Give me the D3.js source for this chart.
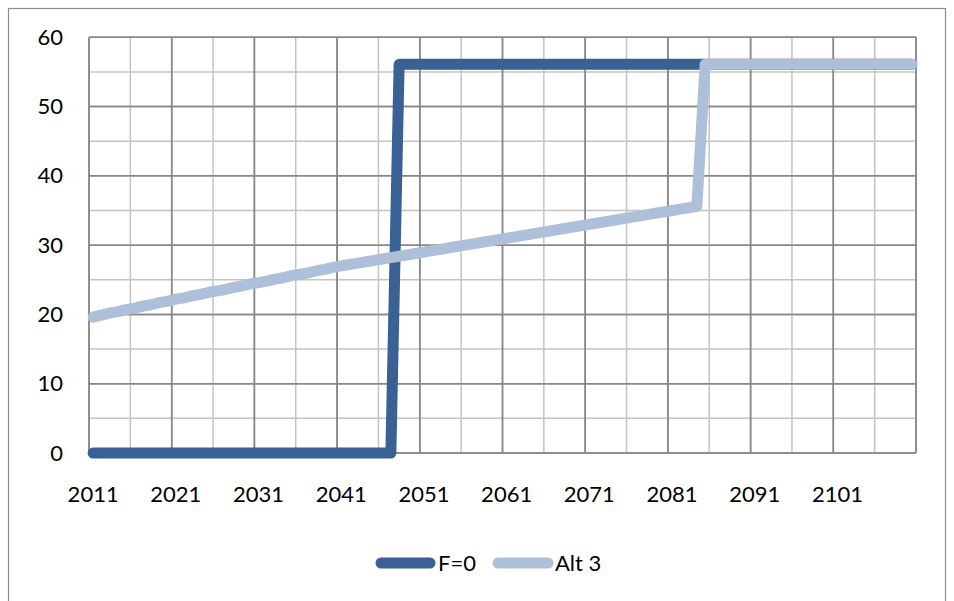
<!DOCTYPE html>
<html>
<head>
<meta charset="utf-8">
<script src="https://cdn.jsdelivr.net/npm/d3@7"></script>
<style>
  html, body { margin: 0; padding: 0; background: #fff; }
  svg { display: block; font-family: Lato, "Open Sans", sans-serif; }
</style>
</head>
<body>
<svg id="chart" width="954" height="601"></svg>
<script>
// ---- Data ----
const years = [
  2011,2012,2013,2014,2015,2016,2017,2018,2019,2020,
  2021,2022,2023,2024,2025,2026,2027,2028,2029,2030,
  2031,2032,2033,2034,2035,2036,2037,2038,2039,2040,
  2041,2042,2043,2044,2045,2046,2047,2048,2049,2050,
  2051,2052,2053,2054,2055,2056,2057,2058,2059,2060,
  2061,2062,2063,2064,2065,2066,2067,2068,2069,2070,
  2071,2072,2073,2074,2075,2076,2077,2078,2079,2080,
  2081,2082,2083,2084,2085,2086,2087,2088,2089,2090,
  2091,2092,2093,2094,2095,2096,2097,2098,2099,2100,
  2101,2102,2103,2104,2105,2106,2107,2108,2109,2110
];
const seriesNames = ["F=0", "Alt 3"];
const f0Values = [
  0,0,0,0,0,0,0,0,0,0,
  0,0,0,0,0,0,0,0,0,0,
  0,0,0,0,0,0,0,0,0,0,
  0,0,0,0,0,0,0,56.1,56.1,56.1,
  56.1,56.1,56.1,56.1,56.1,56.1,56.1,56.1,56.1,56.1,
  56.1,56.1,56.1,56.1,56.1,56.1,56.1,56.1,56.1,56.1,
  56.1,56.1,56.1,56.1,56.1,56.1,56.1,56.1,56.1,56.1,
  56.1,56.1,56.1,56.1,56.1,56.1,56.1,56.1,56.1,56.1,
  56.1,56.1,56.1,56.1,56.1,56.1,56.1,56.1,56.1,56.1,
  56.1,56.1,56.1,56.1,56.1,56.1,56.1,56.1,56.1,56.1
];
const alt3Values = [
  19.6,19.9,20.2,20.4,20.7,20.9,21.2,21.4,21.7,21.9,
  22.2,22.4,22.7,22.9,23.2,23.4,23.6,23.9,24.1,24.4,
  24.6,24.8,25.1,25.3,25.6,25.8,26.0,26.3,26.5,26.8,
  27.0,27.2,27.4,27.6,27.8,28.0,28.2,28.4,28.6,28.8,
  29.0,29.2,29.4,29.6,29.8,30.0,30.2,30.4,30.6,30.8,
  31.0,31.2,31.4,31.6,31.8,32.0,32.2,32.4,32.6,32.8,
  33.0,33.2,33.4,33.6,33.8,34.0,34.2,34.4,34.6,34.8,
  35.0,35.2,35.4,35.6,56.1,56.1,56.1,56.1,56.1,56.1,
  56.1,56.1,56.1,56.1,56.1,56.1,56.1,56.1,56.1,56.1,
  56.1,56.1,56.1,56.1,56.1,56.1,56.1,56.1,56.1,56.1
];
const yTicks = [0,10,20,30,40,50,60];
const xTickLabels = [2011,2021,2031,2041,2051,2061,2071,2081,2091,2101];
const colors = ["#3A6194", "#ADBFD9"];

// ---- Layout ----
const svg = d3.select("#chart");
const plot = { left: 89, right: 916, top: 37.3, bottom: 453 };

svg.append("rect")
  .attr("x", 8.5).attr("y", 8.5)
  .attr("width", 937).attr("height", 620)
  .attr("fill", "none").attr("stroke", "#8c8c8c").attr("stroke-width", 1.2);

const x = d3.scaleBand().domain(years).range([plot.left, plot.right]).paddingInner(0).paddingOuter(0);
const y = d3.scaleLinear().domain([0, 60]).range([plot.bottom, plot.top]);
const xc = d => x(d) + x.bandwidth() / 2;

// gridlines
const grid = svg.append("g");
const hVals = d3.range(0, 61, 5);
grid.selectAll("line.h").data(hVals).enter().append("line")
  .attr("x1", plot.left).attr("x2", plot.right)
  .attr("y1", d => y(d)).attr("y2", d => y(d))
  .attr("stroke", d => d % 10 === 0 ? "#878787" : "#c3c3c3")
  .attr("stroke-width", 1.5);
const vIdx = d3.range(0, years.length + 1, 5);
const boundary = i => i < years.length ? x(years[i]) : plot.right;
grid.selectAll("line.v").data(vIdx).enter().append("line")
  .attr("x1", i => boundary(i)).attr("x2", i => boundary(i))
  .attr("y1", plot.top).attr("y2", plot.bottom)
  .attr("stroke", i => i % 10 === 0 ? "#878787" : "#c3c3c3")
  .attr("stroke-width", 1.5);
// redraw major gridlines on top of minor
grid.selectAll("line.vm").data(vIdx.filter(i => i % 10 === 0)).enter().append("line")
  .attr("x1", i => boundary(i)).attr("x2", i => boundary(i))
  .attr("y1", plot.top).attr("y2", plot.bottom)
  .attr("stroke", "#878787").attr("stroke-width", 1.5);
grid.selectAll("line.hm").data(hVals.filter(d => d % 10 === 0)).enter().append("line")
  .attr("x1", plot.left).attr("x2", plot.right)
  .attr("y1", d => y(d)).attr("y2", d => y(d))
  .attr("stroke", "#878787").attr("stroke-width", 1.5);

// axes
const yAxis = svg.append("g")
  .attr("transform", `translate(${plot.left},0)`)
  .call(d3.axisLeft(y).tickValues(yTicks).tickSize(0).tickPadding(26));
yAxis.select(".domain").remove();
yAxis.selectAll("text").attr("font-size", 22).attr("fill", "#000")
  .attr("font-family", "Lato, 'Open Sans', sans-serif");

const xAxis = svg.append("g")
  .attr("transform", `translate(0,${plot.bottom})`)
  .call(d3.axisBottom(x).tickValues(xTickLabels).tickSize(0).tickPadding(0));
xAxis.select(".domain").remove();
xAxis.selectAll("text").attr("font-size", 22).attr("fill", "#000")
  .attr("font-family", "Lato, 'Open Sans', sans-serif")
  .attr("dy", null).attr("y", 49);

// lines
const line = d3.line().x(d => xc(d.year)).y(d => y(d.value));
const seriesData = [f0Values, alt3Values].map(vals => years.map((yr, i) => ({ year: yr, value: vals[i] })));
svg.selectAll("path.series").data(seriesData).enter().append("path")
  .attr("class", "series")
  .attr("d", line)
  .attr("fill", "none")
  .attr("stroke", (d, i) => colors[i])
  .attr("stroke-width", 11)
  .attr("stroke-linejoin", "round")
  .attr("stroke-linecap", "round");

// legend
const legendItems = [
  { name: seriesNames[0], color: colors[0], x1: 381, x2: 430, tx: 438 },
  { name: seriesNames[1], color: colors[1], x1: 498, x2: 548, tx: 555 }
];
const lg = svg.append("g");
legendItems.forEach(it => {
  lg.append("line").attr("x1", it.x1).attr("x2", it.x2).attr("y1", 563).attr("y2", 563)
    .attr("stroke", it.color).attr("stroke-width", 11).attr("stroke-linecap", "round");
  lg.append("text").attr("x", it.tx).attr("y", 571).attr("font-size", 22).attr("fill", "#000")
    .text(it.name);
});
</script>
</body>
</html>
